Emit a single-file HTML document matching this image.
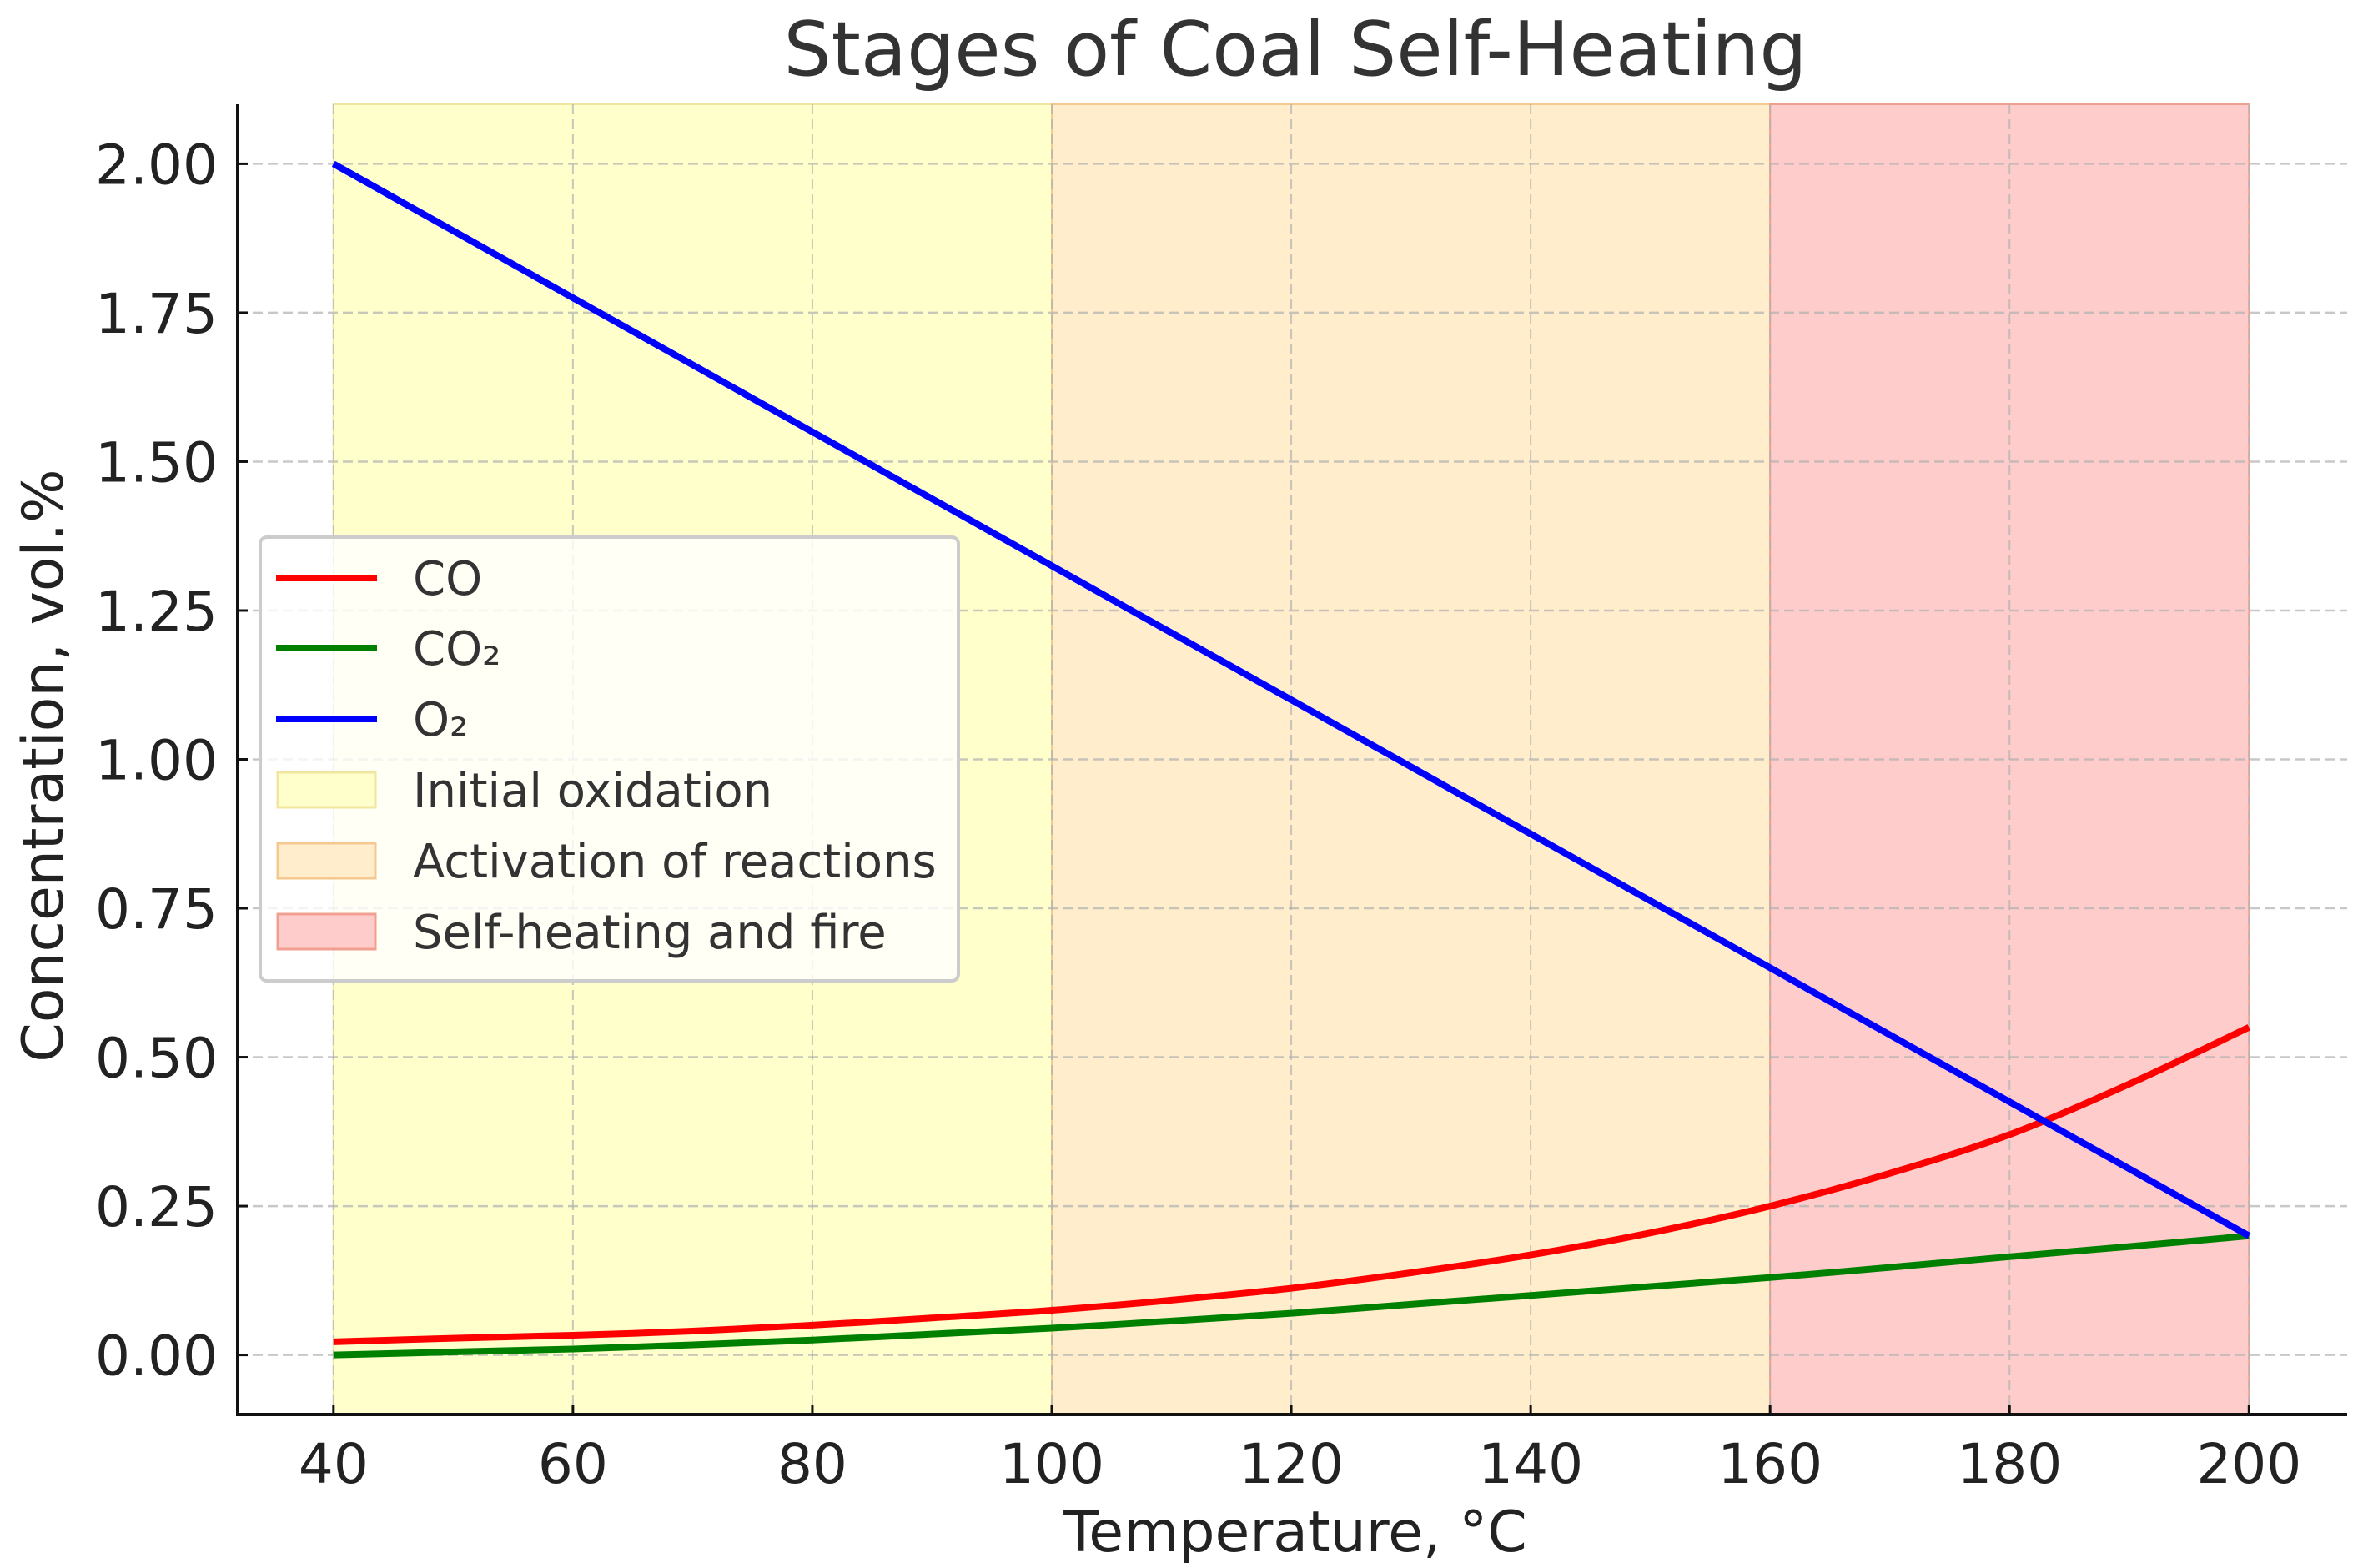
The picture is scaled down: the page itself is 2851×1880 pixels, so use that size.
<!DOCTYPE html>
<html><head><meta charset="utf-8"><style>
html,body{margin:0;padding:0;background:#fff;}
svg{display:block;font-family:"DejaVu Sans","Liberation Sans",sans-serif;}
</style></head><body>
<svg id="chart" width="2851" height="1880" viewBox="0 0 2851 1880" xmlns="http://www.w3.org/2000/svg">
<text x="1553" y="90" font-size="90" fill="#333" text-anchor="middle">Stages of Coal Self-Heating</text>
<g id="plot"></g>
</svg>
<script>
const temps = [40,50,60,70,80,90,100,110,120,130,140,150,160,170,180,190,200];
const coValues = [0.022,0.028,0.033,0.04,0.05,0.062,0.075,0.092,0.112,0.138,0.168,0.205,0.25,0.305,0.37,0.455,0.55];
const co2Values = [0,0.005,0.01,0.017,0.025,0.035,0.045,0.057,0.07,0.085,0.1,0.115,0.13,0.147,0.165,0.182,0.2];
const o2Values = [2.0,1.8875,1.775,1.6625,1.55,1.4375,1.325,1.2125,1.1,0.9875,0.875,0.7625,0.65,0.5375,0.425,0.3125,0.2];
const stageStarts = [40,100,160];
const stageEnds = [100,160,200];
const stageNames = ["Initial oxidation","Activation of reactions","Self-heating and fire"];
const xTicks = [40,60,80,100,120,140,160,180,200];
const yTicks = [0,0.25,0.5,0.75,1.0,1.25,1.5,1.75,2.0];
const yTickLabels = ["0.00","0.25","0.50","0.75","1.00","1.25","1.50","1.75","2.00"];

const NS="http://www.w3.org/2000/svg";
const L=285,R=2814,T=125,B=1696;
const xMin=32,xMax=208.2,yMin=-0.1,yMax=2.1;
const sx=v=>L+(v-xMin)/(xMax-xMin)*(R-L);
const sy=v=>B-(v-yMin)/(yMax-yMin)*(B-T);
const g=document.getElementById('plot');
function mk(tag,attrs,parent){const e=document.createElementNS(NS,tag);for(const k in attrs)e.setAttribute(k,attrs[k]);(parent||g).appendChild(e);return e;}

const stageFill=["#ffffcc","#ffedcc","#ffcccc"];
const stageEdge=["#f0e6a0","#f5c890","#f0a090"];
const stageKeys=["stage-initial-oxidation","stage-activation","stage-self-heating"];
for(let i=0;i<3;i++){
  const r=mk('rect',{x:sx(stageStarts[i]),y:T,width:sx(stageEnds[i])-sx(stageStarts[i]),height:B-T,fill:stageFill[i],stroke:stageEdge[i],'stroke-width':2});
  
  
}
xTicks.forEach(v=>{
  const l=mk('line',{x1:sx(v),x2:sx(v),y1:T,y2:B,stroke:'#b0b0b0','stroke-width':2,'stroke-dasharray':'12,6','stroke-opacity':0.7});
  
  
});
yTicks.forEach(v=>{
  const l=mk('line',{x1:L,x2:R,y1:sy(v),y2:sy(v),stroke:'#b0b0b0','stroke-width':2.5,'stroke-dasharray':'12,6','stroke-opacity':0.7});
  
  
});
function series(vals,color,name){
  const pts=temps.map((t,i)=>[sx(t),sy(vals[i])]);
  let d='M'+pts[0][0].toFixed(1)+','+pts[0][1].toFixed(1);
  for(let i=0;i<pts.length-1;i++){
    const p0=pts[Math.max(0,i-1)],p1=pts[i],p2=pts[i+1],p3=pts[Math.min(pts.length-1,i+2)];
    const c1=[p1[0]+(p2[0]-p0[0])/6,p1[1]+(p2[1]-p0[1])/6];
    const c2=[p2[0]-(p3[0]-p1[0])/6,p2[1]-(p3[1]-p1[1])/6];
    d+=' C'+c1[0].toFixed(1)+','+c1[1].toFixed(1)+' '+c2[0].toFixed(1)+','+c2[1].toFixed(1)+' '+p2[0].toFixed(1)+','+p2[1].toFixed(1);
  }
  const p=mk('path',{d:d,fill:'none',stroke:color,'stroke-width':8,'stroke-linejoin':'round'});
  
  
}
series(coValues,'#ff0000','co-line');
series(co2Values,'#008000','co2-line');
series(o2Values,'#0000ff','o2-line');
const ax1=mk('line',{x1:L,x2:L,y1:T,y2:B+2,stroke:'#111','stroke-width':4});


const ax2=mk('line',{x1:L-2,x2:R,y1:B,y2:B,stroke:'#111','stroke-width':4});


xTicks.forEach(v=>{
  mk('line',{x1:sx(v),x2:sx(v),y1:B,y2:B-12,stroke:'#111','stroke-width':3});
  const t=mk('text',{x:sx(v),y:B+82,'font-size':66,fill:'#222','text-anchor':'middle'});
  t.textContent=v;
  
  
});
yTicks.forEach((v,i)=>{
  mk('line',{x1:L,x2:L+12,y1:sy(v),y2:sy(v),stroke:'#111','stroke-width':3});
  const t=mk('text',{x:L-24,y:sy(v)+24,'font-size':66,fill:'#222','text-anchor':'end'});
  t.textContent=yTickLabels[i];
  
  
});
const xl=mk('text',{x:1553,y:1860,'font-size':68,fill:'#222','text-anchor':'middle'});
xl.textContent='Temperature, °C';


const yl=mk('text',{x:0,y:0,'font-size':68,fill:'#222','text-anchor':'middle',transform:'translate(75,918) rotate(-90)'});
yl.textContent='Concentration, vol.%';


const lg=mk('g',{});


mk('rect',{x:312,y:644,width:837,height:532,rx:8,fill:'#fff','fill-opacity':0.8,stroke:'#ccc','stroke-width':4},lg);
const lineColors=['#ff0000','#008000','#0000ff'];
const lineLabels=['CO','CO₂','O₂'];
const rowY=[693,777,862,947,1032,1117];
for(let i=0;i<3;i++){
  const e=mk('g',{},lg);
  
  
  mk('line',{x1:331,x2:452,y1:rowY[i],y2:rowY[i],stroke:lineColors[i],'stroke-width':8},e);
  const t=mk('text',{x:495,y:rowY[i]+20,'font-size':56,fill:'#333'},e);
  t.textContent=lineLabels[i];
}
for(let i=0;i<3;i++){
  const y=rowY[3+i];
  const e=mk('g',{},lg);
  
  
  mk('rect',{x:333,y:y-21,width:117,height:42,fill:stageFill[i],stroke:stageEdge[i],'stroke-width':3},e);
  const t=mk('text',{x:495,y:y+20,'font-size':56,fill:'#333'},e);
  t.textContent=stageNames[i];
}
</script>
</body></html>
